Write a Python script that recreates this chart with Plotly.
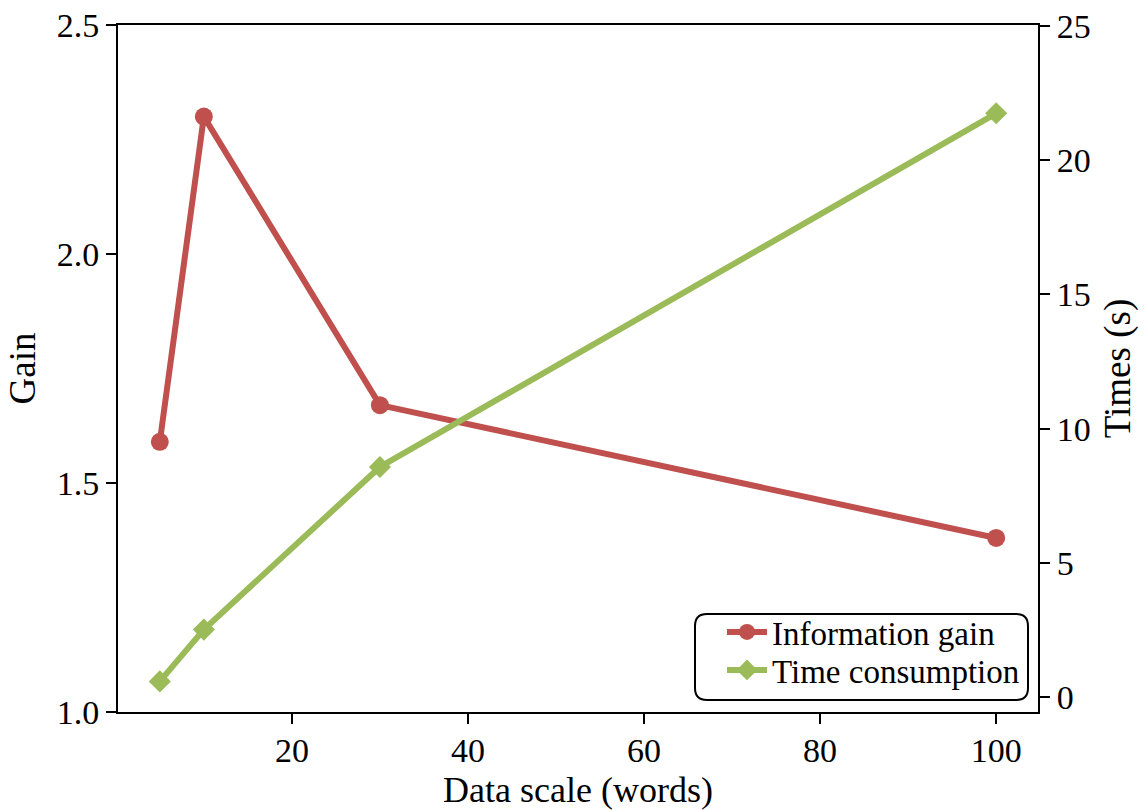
import plotly.graph_objects as go

data_scale = [5, 10, 30, 100]
info_gain = [1.59, 2.30, 1.67, 1.38]
time_consumption = [0.58, 2.51, 8.57, 21.75]

x_ticks = [20, 40, 60, 80, 100]
gain_ticks = [1.0, 1.5, 2.0, 2.5]
time_ticks = [0, 5, 10, 15, 20, 25]

RED = "#C0504D"
GREEN = "#9BBB59"
FONT = "Liberation Serif"

W, H = 1144, 810
ML, MR, MT, MB = 118, 106, 25, 98
PW, PH = W - ML - MR, H - MT - MB


def px_x(px):
    return (px - ML) / PW


def px_y(py):
    return (H - MB - py) / PH


fig = go.Figure()
fig.add_trace(go.Scatter(
    x=data_scale, y=info_gain, name="Information gain",
    mode="lines+markers",
    line=dict(color=RED, width=6),
    marker=dict(symbol="circle", size=18, color=RED),
    yaxis="y", legend="legend",
))
fig.add_trace(go.Scatter(
    x=data_scale, y=time_consumption, name="Time consumption",
    mode="lines+markers",
    line=dict(color=GREEN, width=6),
    marker=dict(symbol="diamond", size=17, color=GREEN),
    yaxis="y2", legend="legend2",
))

axis_common = dict(
    showline=True, linecolor="black", linewidth=2,
    ticks="outside", ticklen=10, tickwidth=2, tickcolor="black",
    showgrid=False, zeroline=False, automargin=False,
    tickfont=dict(family=FONT, size=34, color="black"),
)

# rounded legend frame
x0, x1 = px_x(695), px_x(1028)
y0, y1 = px_y(700), px_y(614)
rx, ry = 12 / PW, 12 / PH
frame_path = (
    f"M{x0 + rx},{y0} L{x1 - rx},{y0} Q{x1},{y0} {x1},{y0 + ry} "
    f"L{x1},{y1 - ry} Q{x1},{y1} {x1 - rx},{y1} "
    f"L{x0 + rx},{y1} Q{x0},{y1} {x0},{y1 - ry} "
    f"L{x0},{y0 + ry} Q{x0},{y0} {x0 + rx},{y0} Z"
)

legend_common = dict(
    xanchor="left", yanchor="middle",
    bgcolor="rgba(0,0,0,0)", borderwidth=0,
    font=dict(family=FONT, size=33, color="black"),
    itemwidth=40,
)

fig.update_layout(
    width=W, height=H,
    margin=dict(l=ML, r=MR, t=MT, b=MB, autoexpand=False),
    paper_bgcolor="white", plot_bgcolor="white",
    font=dict(family=FONT, color="black"),
    showlegend=True,
    xaxis=dict(
        range=[0.25, 104.75], tickvals=x_ticks, mirror=True,
        ticklabelstandoff=-3,
        **axis_common,
    ),
    yaxis=dict(
        range=[1.0, 2.5], tickvals=gain_ticks, tickformat=".1f",
        title=dict(text="Gain", font=dict(family=FONT, size=37), standoff=10),
        **axis_common,
    ),
    yaxis2=dict(
        range=[-0.56, 25.04], tickvals=time_ticks, overlaying="y", side="right",
        title=dict(text="Times (s)", font=dict(family=FONT, size=37), standoff=14),
        **axis_common,
    ),
    legend=dict(x=px_x(722), y=px_y(632), **legend_common),
    legend2=dict(x=px_x(722), y=px_y(670), **legend_common),
    annotations=[dict(
        text="Data scale (words)", xref="paper", yref="paper",
        x=0.5, y=px_y(790), xanchor="center", yanchor="middle",
        showarrow=False, font=dict(family=FONT, size=36, color="black"),
    )],
    shapes=[dict(
        type="path", path=frame_path, xref="paper", yref="paper",
        line=dict(color="black", width=2),
        fillcolor="rgba(255,255,255,0.85)", layer="above",
    )],
)

fig.write_html(
    "out.html",
    config={"displayModeBar": False},
    post_script="document.body.style.margin='0';document.body.style.overflow='hidden';",
)
